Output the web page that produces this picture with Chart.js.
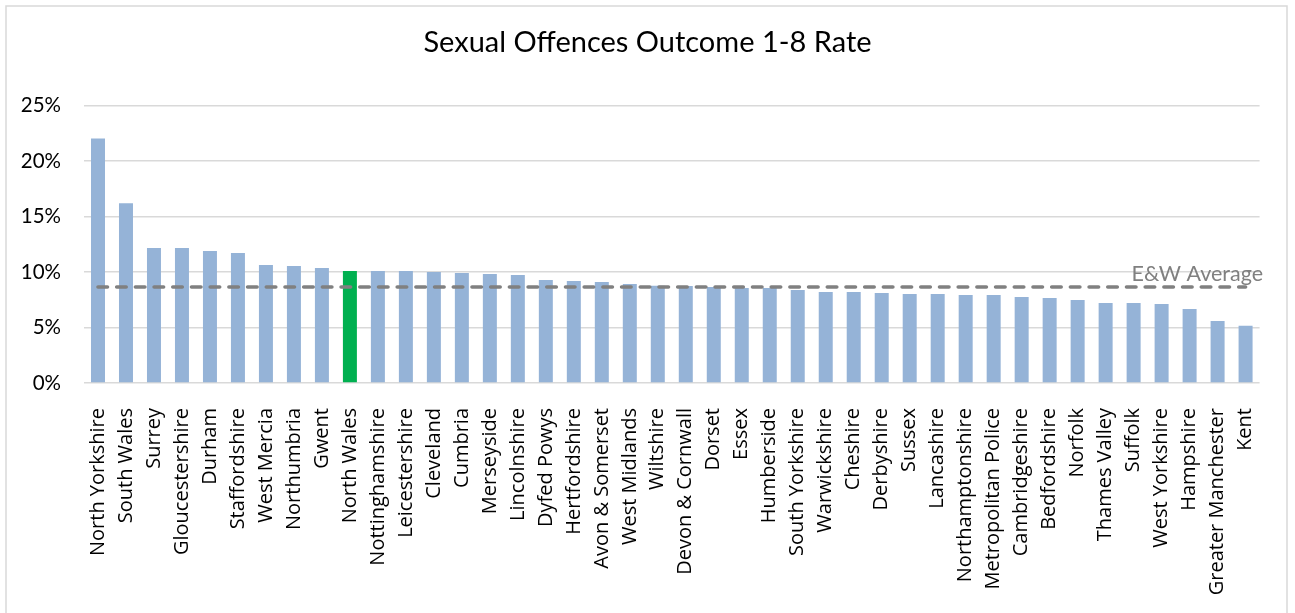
<!DOCTYPE html>
<html>
<head>
<meta charset="utf-8">
<script src="https://cdn.jsdelivr.net/npm/chart.js@4"></script>
<style>
  html, body { margin: 0; padding: 0; background: #fff; }
  #wrap { position: relative; width: 1295px; height: 613px; }
</style>
</head>
<body>
<div id="wrap"><canvas id="outcome-chart"></canvas></div>
<script>
  // forces, sorted by rate
  const forces = [
    'North Yorkshire', 'South Wales', 'Surrey', 'Gloucestershire', 'Durham',
    'Staffordshire', 'West Mercia', 'Northumbria', 'Gwent', 'North Wales',
    'Nottinghamshire', 'Leicestershire', 'Cleveland', 'Cumbria', 'Merseyside',
    'Lincolnshire', 'Dyfed Powys', 'Hertfordshire', 'Avon & Somerset', 'West Midlands',
    'Wiltshire', 'Devon & Cornwall', 'Dorset', 'Essex', 'Humberside',
    'South Yorkshire', 'Warwickshire', 'Cheshire', 'Derbyshire', 'Sussex',
    'Lancashire', 'Northamptonshire', 'Metropolitan Police', 'Cambridgeshire', 'Bedfordshire',
    'Norfolk', 'Thames Valley', 'Suffolk', 'West Yorkshire', 'Hampshire',
    'Greater Manchester', 'Kent'
  ];
  const rates = [
    22.06, 16.2, 12.17, 12.17, 11.9,
    11.72, 10.64, 10.55, 10.37, 10.1,
    10.1, 10.1, 10.01, 9.92, 9.83,
    9.74, 9.29, 9.2, 9.11, 8.93,
    8.78, 8.75, 8.66, 8.57, 8.57,
    8.39, 8.21, 8.21, 8.12, 8.03,
    8.03, 7.94, 7.94, 7.76, 7.67,
    7.49, 7.22, 7.22, 7.13, 6.68,
    5.6, 5.16
  ];
  const highlightForce = 'North Wales';
  const avgRate = 8.66;
  const avgLabel = 'E&W Average';
  const yTicks = [0, 5, 10, 15, 20, 25];

  const barColours = forces.map(f => f === highlightForce ? '#00b050' : '#95b3d7');

  const outerBorder = {
    id: 'outerBorder',
    beforeDraw(chart) {
      const c = chart.ctx;
      c.save();
      c.strokeStyle = '#d9d9d9';
      c.lineWidth = 1.5;
      c.strokeRect(6, 6, chart.width - 14, chart.height + 10);
      c.restore();
    }
  };

  const avgText = {
    id: 'avgText',
    afterDatasetsDraw(chart) {
      const c = chart.ctx;
      const y = chart.scales.y.getPixelForValue(avgRate);
      c.save();
      c.font = '21.5px Lato';
      c.fillStyle = '#808080';
      c.textAlign = 'right';
      c.textBaseline = 'middle';
      c.fillText(avgLabel, 1263, y - 13);
      c.restore();
    }
  };

  const ctx = document.getElementById('outcome-chart').getContext('2d');
  const chart = new Chart(ctx, {
    type: 'bar',
    data: {
      labels: forces,
      datasets: [{
        type: 'line',
        label: avgLabel,
        data: forces.map(() => avgRate),
        borderColor: '#808080',
        borderWidth: 3.6,
        borderDash: [9.5, 9.2],
        borderCapStyle: 'round',
        pointRadius: 0,
        fill: false,
        order: 0
      }, {
        label: 'Outcome 1-8 Rate',
        data: rates,
        backgroundColor: barColours,
        borderWidth: 0,
        categoryPercentage: 1,
        barPercentage: 0.5,
        order: 1
      }]
    },
    options: {
      responsive: true,
      maintainAspectRatio: false,
      animation: false,
      layout: { padding: 0 },
      plugins: {
        legend: { display: false },
        tooltip: { enabled: false },
        title: {
          display: true,
          text: 'Sexual Offences Outcome 1-8 Rate',
          color: '#000',
          font: { family: 'Lato', size: 29, weight: 'normal' },
          padding: { top: 25, bottom: 46 }
        }
      },
      scales: {
        x: {
          grid: { display: false, drawTicks: false },
          border: { display: false },
          ticks: {
            autoSkip: false,
            minRotation: 90,
            maxRotation: 90,
            padding: 25,
            color: '#000',
            font: { family: 'Open Sans', size: 20 }
          },
          afterFit(scale) { scale.height = 230; }
        },
        y: {
          min: 0,
          max: 25,
          afterBuildTicks(scale) { scale.ticks = yTicks.map(v => ({ value: v })); },
          grid: { color: '#d9d9d9', lineWidth: 1.5, drawTicks: false },
          border: { display: false },
          ticks: {
            padding: 23,
            color: '#000',
            font: { family: 'Lato', size: 20.5 },
            callback: v => v + '%'
          },
          afterFit(scale) { scale.width = 84; }
        },
        // empty right-hand axis, only keeps the plot clear of the right edge
        yRight: {
          position: 'right',
          min: 0,
          max: 25,
          grid: { display: false, drawTicks: false },
          border: { display: false },
          ticks: { display: false },
          afterFit(scale) { scale.width = 35; }
        }
      }
    },
    plugins: [outerBorder, avgText]
  });
</script>
</body>
</html>
